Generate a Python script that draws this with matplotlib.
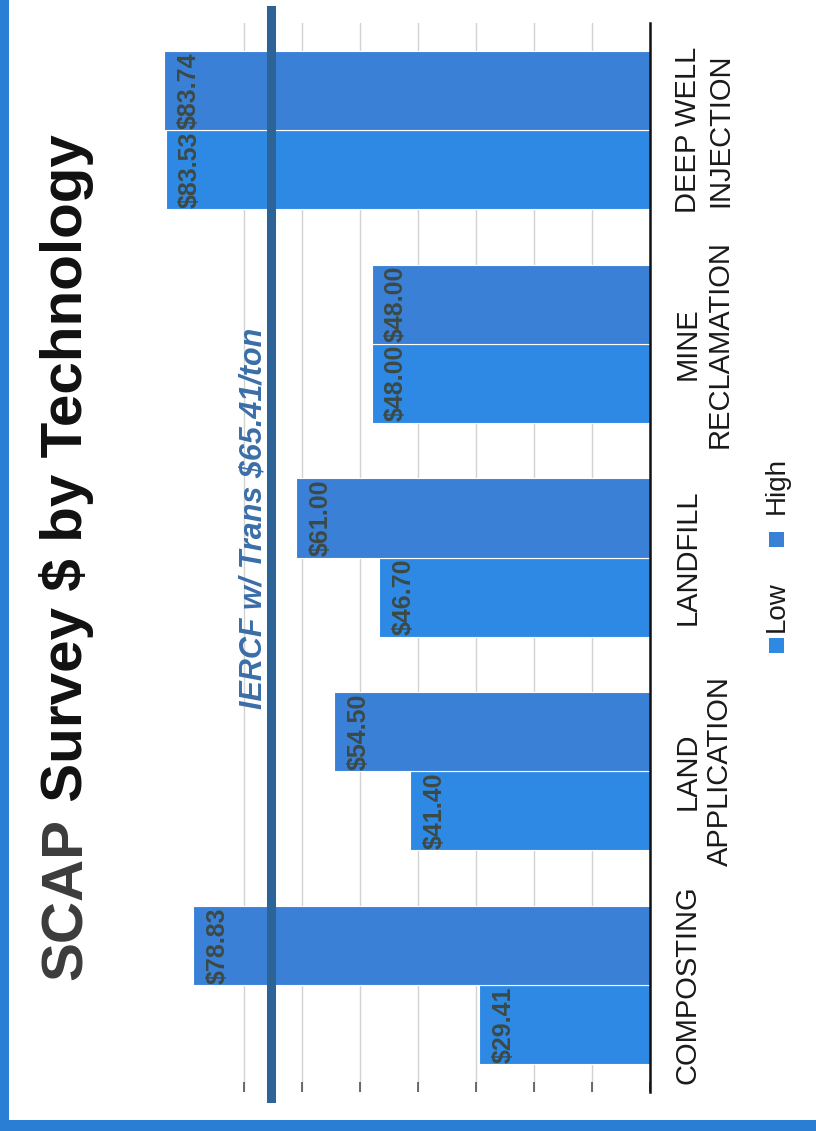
#!/usr/bin/env python3
"""
SCAP Survey $ by Technology - rotated (landscape slide on a portrait page)
Output: out.png (816x1131px)
"""

import matplotlib
matplotlib.use("Agg")
import matplotlib.pyplot as plt
import matplotlib.patches as mpatches
import numpy as np

# ─── DATA ─────────────────────────────────────────────────────────────────────

categories = ["COMPOSTING", "LAND\nAPPLICATION", "LANDFILL",
              "MINE\nRECLAMATION", "DEEP WELL\nINJECTION"]
series = ["Low", "High"]
low = [29.41, 41.40, 46.70, 48.00, 83.53]
high = [78.83, 54.50, 61.00, 48.00, 83.74]
grid_ticks = [0, 10, 20, 30, 40, 50, 60, 70]
iercf_value = 65.41
iercf_label = "IERCF w/ Trans $65.41/ton"
title_a = "SCAP"
title_b = " Survey $ by Technology"

# ─── COLORS ───────────────────────────────────────────────────────────────────

LOW_CLR = "#2e89e4"
HIGH_CLR = "#3a80d6"
LINE_CLR = "#2c6498"
IERCF_TXT = "#3a6ea8"
VAL_TXT = "#3d4a46"
FRAME = "#2a7fd4"
GRID_CLR = "#d2d2d2"

W, H = 816, 1131


def fx(x):
    return x / W


def fy(y):
    return 1 - y / H


plt.rcParams["font.family"] = ["Liberation Sans", "DejaVu Sans"]

fig = plt.figure(figsize=(W / 100, H / 100), dpi=100)
fig.patch.set_facecolor("white")

# ── AXES (value axis runs right→left, base at x=650px) ────────────────────────
X_MAX = 90
PX_PER = 5.8
ax_left = 650 - X_MAX * PX_PER
ax = fig.add_axes([fx(ax_left), fy(1092), (650 - ax_left) / W, (1092 - 23) / H])
ax.set_facecolor("none")

y = np.arange(len(categories))
h = 0.37
b_low = ax.barh(y - h / 2, low, height=h, color=LOW_CLR, edgecolor="white",
                linewidth=0.8, label=series[0], zorder=2)
b_high = ax.barh(y + h / 2, high, height=h, color=HIGH_CLR, edgecolor="white",
                 linewidth=0.8, label=series[1], zorder=2)

ax.set_xlim(X_MAX, 0)
ax.set_ylim(-0.5, len(categories) - 0.5)

# gridlines + little ticks at the bottom
ax.set_xticks(grid_ticks)
ax.grid(axis="x", color=GRID_CLR, linewidth=1, zorder=0)
ax.set_axisbelow(True)
ax.tick_params(axis="x", direction="in", length=7, width=1.2, color="#555",
               labelbottom=False)

# category labels on the right, rotated
ax.yaxis.tick_right()
ax.set_yticks(y)
ax.set_yticklabels(categories, rotation=90, fontsize=21, color="#1a1a1a")
for lbl in ax.get_yticklabels():
    lbl.set_va("center")
    lbl.set_ha("left")
    lbl.set_multialignment("center")
ax.tick_params(axis="y", length=0, pad=17)

for side in ("top", "bottom", "left"):
    ax.spines[side].set_visible(False)
ax.spines["right"].set_color("#111")
ax.spines["right"].set_linewidth(1.8)

# value labels at the inside end of each bar
for bars, vals in ((b_low, low), (b_high, high)):
    for rect, v in zip(bars, vals):
        ax.annotate(f"${v:.2f}", xy=(v, rect.get_y() + rect.get_height() / 2),
                    xytext=(9, 0), textcoords="offset points",
                    rotation=90, ha="left", va="center",
                    fontsize=18, fontweight="bold", color=VAL_TXT, zorder=4)

# ── IERCF REFERENCE LINE ──────────────────────────────────────────────────────
ax.axvline(iercf_value, ymin=-0.006, ymax=1.012, clip_on=False,
           color=LINE_CLR, linewidth=6.5, zorder=3)
fig.text(fx(254), fy(518), iercf_label, rotation=90, ha="center", va="center",
         fontsize=22, fontstyle="italic", fontweight="bold", color=IERCF_TXT)

# ── TITLE (two colours, reading bottom→top) ───────────────────────────────────
t1 = fig.text(fx(82), fy(980), title_a, rotation=90, rotation_mode="anchor",
              ha="left", va="baseline", fontsize=42, fontweight="bold",
              color="#3c3c3c")
renderer = fig.canvas.get_renderer()
bb = t1.get_window_extent(renderer=renderer)
fig.text(fx(82), bb.y1 / H, title_b, rotation=90, rotation_mode="anchor",
         ha="left", va="baseline", fontsize=42, fontweight="bold",
         color="#111111")

# ── LEGEND (manual, rotated) ──────────────────────────────────────────────────
legend_items = [(series[0], LOW_CLR, 645, 607), (series[1], HIGH_CLR, 540, 486)]
for name, color, sq_y, txt_y in legend_items:
    fig.patches.append(mpatches.Rectangle(
        (fx(769), fy(sq_y + 7.5)), 15 / W, 15 / H,
        transform=fig.transFigure, facecolor=color, edgecolor="none"))
    fig.text(fx(777), fy(txt_y), name, rotation=90, ha="center", va="center",
             fontsize=20, color="#1a1a1a")

# ── PAGE FRAME ────────────────────────────────────────────────────────────────
fig.patches.append(mpatches.Rectangle((0, 0), fx(9), 1, transform=fig.transFigure,
                                      facecolor=FRAME, edgecolor="none"))
fig.patches.append(mpatches.Rectangle((0, 0), 1, 11 / H, transform=fig.transFigure,
                                      facecolor=FRAME, edgecolor="none"))

fig.savefig("out.png", dpi=100, facecolor="white")
plt.close(fig)
